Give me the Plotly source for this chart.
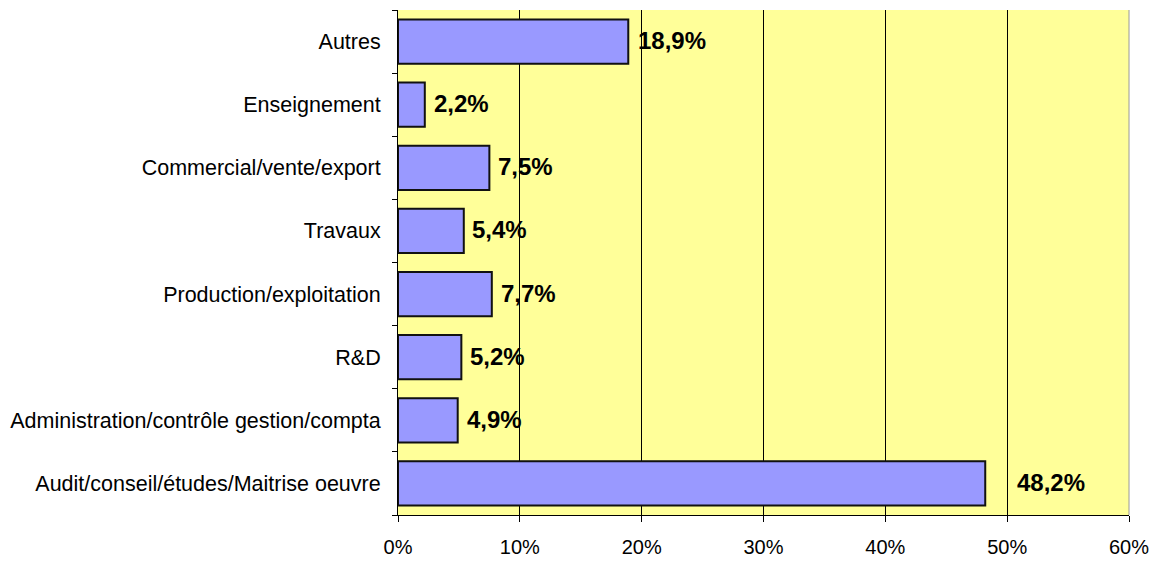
import plotly.graph_objects as go

categories = [
    "Audit/conseil/études/Maitrise oeuvre",
    "Administration/contrôle gestion/compta",
    "R&D",
    "Production/exploitation",
    "Travaux",
    "Commercial/vente/export",
    "Enseignement",
    "Autres",
]
values = [48.2, 4.9, 5.2, 7.7, 5.4, 7.5, 2.2, 18.9]
value_labels = ["48,2%", "4,9%", "5,2%", "7,7%", "5,4%", "7,5%", "2,2%", "18,9%"]
x_ticks = [0, 10, 20, 30, 40, 50, 60]
x_tick_labels = ["0%", "10%", "20%", "30%", "40%", "50%", "60%"]

label_shifts = [30, 7, 7, 7, 6, 7, 7, 8]

FONT = "Liberation Sans, Arial, sans-serif"

fig = go.Figure()
fig.add_trace(go.Bar(
    y=categories,
    x=values,
    orientation="h",
    marker=dict(color="#9999FF", line=dict(color="#111111", width=2)),
    hoverinfo="skip",
))

for cat, v, lab, sh in zip(categories, values, value_labels, label_shifts):
    fig.add_annotation(
        x=v, y=cat, text=lab, showarrow=False, xanchor="left", yanchor="middle",
        xshift=sh, yshift=1,
        font=dict(family=FONT, size=24, color="#000000", weight="bold"),
    )

fig.add_shape(type="line", xref="paper", yref="paper", x0=1, x1=1, y0=0, y1=1,
              line=dict(color="#9a9a9a", width=1))

fig.update_layout(
    template="none",
    width=1158, height=561,
    margin=dict(l=398, r=29, t=10, b=46, autoexpand=False),
    paper_bgcolor="white",
    plot_bgcolor="#FFFF99",
    bargap=0.3,
    showlegend=False,
    font=dict(family=FONT, size=20, color="#000000"),
)
fig.update_xaxes(
    automargin=False,
    range=[0, 60], tickvals=x_ticks, ticktext=x_tick_labels,
    showgrid=True, gridcolor="#000000", gridwidth=1,
    showline=True, linecolor="#000000", linewidth=1,
    ticks="outside", ticklen=6, tickcolor="#000000",
    ticklabelstandoff=8,
    zeroline=False,
    tickfont=dict(size=20),
)
fig.update_yaxes(
    automargin=False,
    showgrid=False, showline=True, linecolor="#000000", linewidth=1,
    ticks="outside", ticklen=5, tickcolor="#000000", tickson="boundaries",
    ticklabelstandoff=12,
    tickfont=dict(size=21.5),
)

fig.write_html(
    "out.html",
    config={"displayModeBar": False},
    post_script="document.body.style.margin='0';document.body.style.overflow='hidden';",
)
